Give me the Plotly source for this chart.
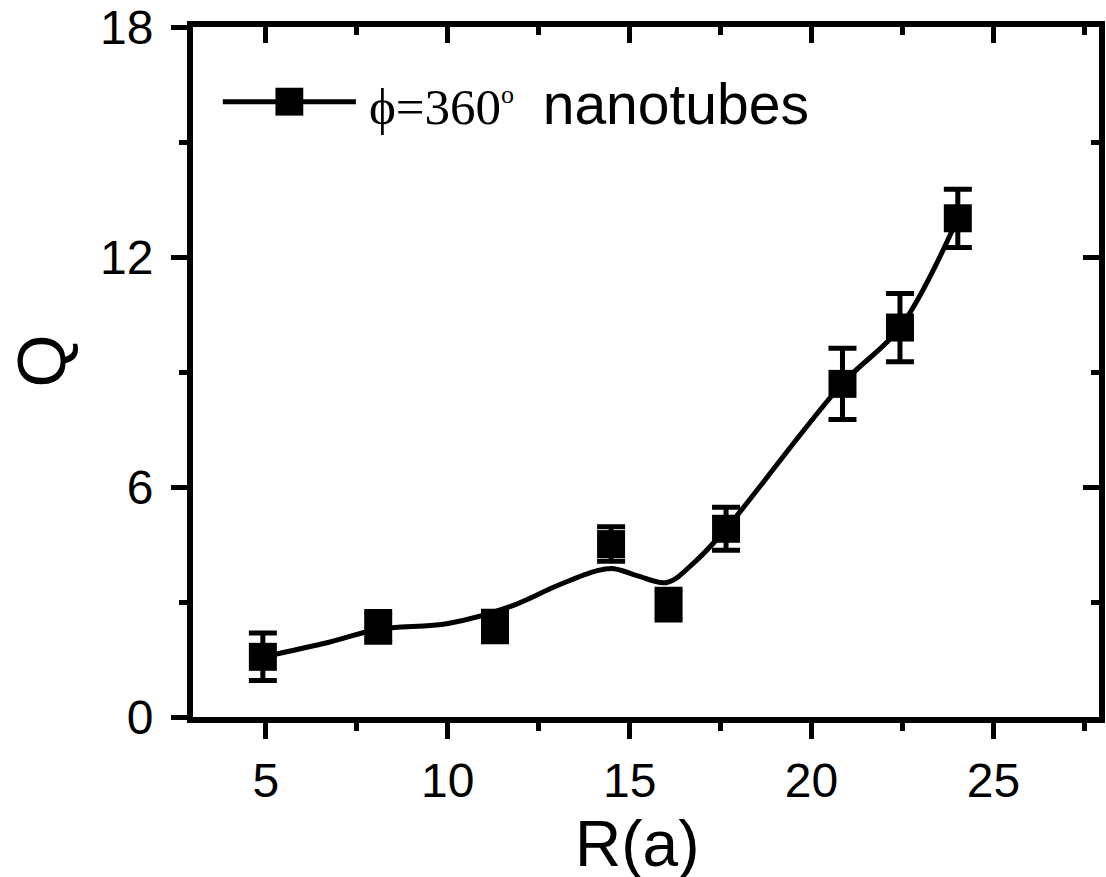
import plotly.graph_objects as go

# Measured quality factor versus radius (units of a)
radius = [4.92, 8.09, 11.30, 14.49, 16.07, 17.65, 20.85, 22.43, 24.02]
q_value = [1.57, 2.35, 2.36, 4.51, 2.93, 4.91, 8.69, 10.16, 13.01]
q_error = [0.62, 0.40, 0.40, 0.45, 0.40, 0.56, 0.93, 0.89, 0.76]

# Smoothed guide curve through the measurements
fit_radius = [4.93, 6.74, 8.10, 10.01, 11.71, 13.02, 14.11, 14.57,
              15.20, 16.02, 16.83, 17.65, 20.84, 22.43, 24.02]
fit_q = [1.57, 1.95, 2.29, 2.44, 2.88, 3.43, 3.82, 3.87,
         3.69, 3.51, 4.08, 4.91, 8.69, 10.16, 13.01]

x_ticks = [5, 10, 15, 20, 25]
y_ticks = [0, 6, 12, 18]
x_range = [3.0, 27.9]
y_range = [0, 18]

W, H = 1106, 877
ML, MR, MT, MB = 193, 1, 24, 160
LW = 6
SANS = "Liberation Sans"
SERIF = "Liberation Serif"

fig = go.Figure()

fig.add_trace(go.Scatter(
    x=fit_radius, y=fit_q, mode="lines",
    line=dict(color="black", width=5, shape="spline", smoothing=1.0),
    showlegend=False, hoverinfo="skip",
))

fig.add_trace(go.Scatter(
    x=radius, y=q_value, mode="markers",
    marker=dict(symbol="square", size=28, color="black"),
    error_y=dict(type="data", array=q_error, visible=True,
                 color="black", thickness=5, width=14),
    showlegend=False,
))

# helper trace so the mirrored top/right axes are rendered
fig.add_trace(go.Scatter(x=[None], y=[None], xaxis="x2", yaxis="y2",
                         showlegend=False, hoverinfo="skip"))

major = dict(ticks="outside", ticklen=16, tickwidth=5, tickcolor="black")
minor_out = dict(ticks="outside", ticklen=8, tickwidth=5, tickcolor="black")
minor_in = dict(ticks="inside", ticklen=8, tickwidth=5, tickcolor="black")

fig.update_layout(
    width=W, height=H,
    margin=dict(l=ML, r=MR, t=MT, b=MB),
    paper_bgcolor="white", plot_bgcolor="white",
    showlegend=False,
    font=dict(family=SANS, color="black", size=48),
    xaxis=dict(
        range=x_range, tickvals=x_ticks, **major,
        minor=dict(dtick=2.5, tick0=0, **minor_out),
        showline=True, linewidth=LW, linecolor="black", mirror=True,
        showgrid=False, zeroline=False, ticklabeloverflow="allow",
        tickfont=dict(family=SANS, size=48),
    ),
    yaxis=dict(
        range=y_range, tickvals=y_ticks, **major,
        minor=dict(dtick=3, tick0=0, **minor_out),
        showline=True, linewidth=LW, linecolor="black", mirror=True,
        showgrid=False, zeroline=False, ticklabelstandoff=8,
        ticklabeloverflow="allow",
        tickfont=dict(family=SANS, size=48),
    ),
    xaxis2=dict(
        range=x_range, tickvals=x_ticks, overlaying="x", side="top", anchor="y",
        ticks="inside", ticklen=16, tickwidth=5, tickcolor="black",
        minor=dict(dtick=2.5, tick0=0, **minor_in),
        showticklabels=False, showline=False, showgrid=False, zeroline=False,
    ),
    yaxis2=dict(
        range=y_range, tickvals=y_ticks, overlaying="y", side="right", anchor="x",
        ticks="inside", ticklen=16, tickwidth=5, tickcolor="black",
        minor=dict(dtick=3, tick0=0, **minor_in),
        showticklabels=False, showline=False, showgrid=False, zeroline=False,
    ),
)

pw, ph = W - ML - MR, H - MT - MB


def px(x):
    return (x - ML) / pw


def py(y):
    return (H - MB - y) / ph


# Axis titles placed as free text so they can sit close to the page edges
fig.add_annotation(
    xref="paper", yref="paper", x=px(640), y=py(845),
    xanchor="center", yanchor="middle", showarrow=False,
    text="R(a)", font=dict(family=SANS, size=64, color="black"),
)
fig.add_annotation(
    xref="paper", yref="paper", x=px(40), y=py(360),
    xanchor="center", yanchor="middle", showarrow=False, textangle=-90,
    text="Q", font=dict(family=SANS, size=68, color="black"),
)

# Legend key drawn by hand: line with a square marker, then the label
fig.add_shape(type="line", xref="paper", yref="paper",
              x0=px(223), x1=px(357), y0=py(99), y1=py(99),
              line=dict(color="black", width=5))
fig.add_shape(type="rect", xref="paper", yref="paper",
              x0=px(276), x1=px(304), y0=py(85), y1=py(113),
              fillcolor="black", line=dict(color="black", width=0))
fig.add_annotation(
    xref="paper", yref="paper", x=px(368), y=py(101),
    xanchor="left", yanchor="middle", showarrow=False,
    text=(f'<span style="font-family:{SERIF};font-size:51px">ϕ=360'
          f'<sup><span style="font-size:26px">o</span></sup>&nbsp;</span>'
          f' nanotubes'),
    font=dict(family=SANS, size=57, color="black"),
)

fig.write_html("out.html")
